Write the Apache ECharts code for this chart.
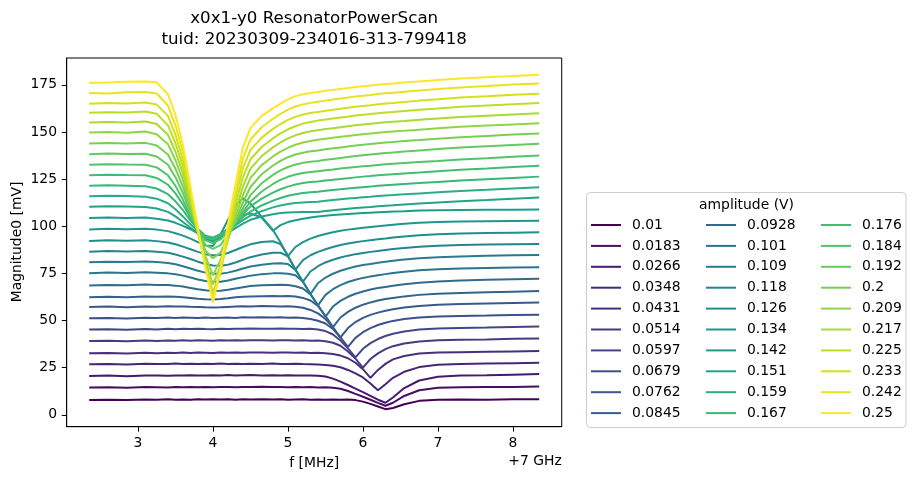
<!DOCTYPE html>
<html><head><meta charset="utf-8">
<script src="https://cdn.jsdelivr.net/npm/echarts@6/dist/echarts.min.js"></script>
<style>html,body{margin:0;padding:0;background:#fff}#c{width:916px;height:480px}</style>
</head><body><div id="c"></div>
<script>
// frequency grid in MHz (offset +7 GHz)
const freq = [2.35,2.6,2.85,3.1,3.25,3.4,3.5,3.6,3.7,3.8,3.9,4.0,4.1,4.2,4.3,4.4,4.5,4.65,4.8,4.9,5.0,5.1,5.2,5.3,5.4,5.5,5.6,5.7,5.8,5.9,6.0,6.1,6.2,6.3,6.4,6.55,6.75,7.0,7.3,7.65,8.0,8.35];
const amplitudes = ['0.01','0.0183','0.0266','0.0348','0.0431','0.0514','0.0597','0.0679','0.0762','0.0845','0.0928','0.101','0.109','0.118','0.126','0.134','0.142','0.151','0.159','0.167','0.176','0.184','0.192','0.2','0.209','0.217','0.225','0.233','0.242','0.25'];
const xTicks = [3,4,5,6,7,8];
const yTicks = [0,25,50,75,100,125,150,175];

const m00 = [7.9,8.0,7.8,8.1,8.0,8.2,8.0,8.1,8.0,8.2,8.1,8.3,8.1,8.2,8.0,8.2,8.1,8.3,8.1,8.2,8.0,8.1,8.2,8.0,8.1,8.0,8.1,8.0,8.1,7.8,7.0,5.8,4.4,3.0,3.6,5.6,7.4,8.0,8.1,8.0,8.2,8.3];
const m01 = [14.5,14.6,14.4,14.7,14.6,14.5,14.7,14.6,14.8,14.6,14.7,14.6,14.8,14.7,14.6,14.8,14.7,14.9,14.7,14.8,14.6,14.7,14.6,14.7,14.5,14.6,14.3,13.8,12.6,11.1,9.6,8.0,6.3,4.8,6.4,10.0,13.0,14.3,14.6,14.7,14.8,15.0];
const m02 = [20.6,20.8,20.5,20.9,20.8,20.7,20.9,20.8,21.0,20.9,20.8,21.0,20.9,21.1,20.9,21.0,21.1,20.9,21.0,20.9,21.0,20.8,20.9,20.8,20.7,20.3,19.2,17.6,15.8,13.9,12.0,10.0,8.0,6.4,9.2,14.2,18.2,20.2,20.8,21.0,21.3,21.6];
const m03 = [26.8,27.0,26.7,27.1,26.9,27.0,27.2,27.0,27.1,26.9,27.1,27.0,27.2,27.0,27.1,26.9,27.1,27.0,27.2,27.0,26.9,27.1,26.9,26.8,26.7,26.4,26.0,25.2,23.8,22.0,19.8,16.6,13.0,16.2,19.6,22.8,25.3,26.6,27.0,27.2,27.4,27.6];
const m04 = [32.6,32.8,32.5,32.9,32.7,32.9,32.8,33.0,32.8,33.0,32.9,32.8,33.0,32.9,33.1,32.9,33.0,33.1,32.9,33.0,33.1,32.9,33.0,32.8,32.9,32.6,32.2,31.4,30.0,27.6,24.2,19.6,23.8,27.0,29.4,31.2,32.5,33.0,33.2,33.4,33.6,33.8];
const m05 = [39.1,39.3,39.0,39.4,39.2,39.4,39.3,39.5,39.3,39.5,39.4,39.3,39.5,39.4,39.6,39.4,39.5,39.6,39.4,39.5,39.6,39.4,39.5,39.3,39.4,39.0,38.2,36.6,33.6,29.8,25.0,29.6,32.6,34.8,36.4,37.8,38.9,39.5,39.8,40.0,40.3,40.5];
const m06 = [45.2,45.4,45.1,45.5,45.3,45.6,45.4,45.6,45.5,45.7,45.5,45.4,45.6,45.5,45.7,45.6,45.8,45.6,45.7,45.8,45.6,45.7,45.5,45.6,45.2,44.4,42.6,39.4,35.2,30.5,35.0,38.0,40.2,41.8,43.0,44.2,45.2,45.8,46.1,46.3,46.6,46.8];
const m07 = [51.2,51.4,51.1,51.5,51.3,51.6,51.4,51.6,51.5,51.4,51.6,51.3,51.5,51.6,51.4,51.7,51.6,51.8,51.6,51.7,51.5,51.6,51.3,50.8,49.9,48.4,45.6,41.0,36.0,40.8,43.8,46.0,47.6,48.8,49.8,50.8,51.6,52.1,52.4,52.6,52.9,53.1];
const m08 = [57.2,57.4,57.1,57.5,57.3,57.6,57.4,57.5,57.3,57.2,57.0,56.9,57.0,57.2,57.4,57.6,57.5,57.7,57.6,57.5,57.6,57.3,56.8,55.6,53.8,50.8,46.5,41.0,46.0,49.2,51.4,53.0,54.2,55.2,56.0,56.9,57.7,58.3,58.7,59.0,59.3,59.6];
const m09 = [62.3,62.6,62.4,62.8,62.6,62.8,62.6,62.4,62.0,61.6,61.3,61.2,61.4,61.8,62.3,62.6,62.8,62.9,63.0,62.9,63.0,62.7,62.0,60.6,57.8,52.5,46.5,51.6,54.6,56.8,58.4,59.6,60.6,61.4,62.0,62.8,63.6,64.2,64.6,65.0,65.3,65.6];
const m10 = [68.6,68.9,68.7,69.1,68.9,68.8,68.5,68.0,67.3,66.6,66.0,65.7,65.8,66.3,67.0,67.7,68.3,68.7,68.9,69.0,68.8,68.2,67.0,63.8,58.2,52.0,57.4,60.4,62.6,64.2,65.4,66.4,67.2,67.8,68.4,69.2,70.0,70.7,71.2,71.6,71.9,72.1];
const m11 = [75.1,75.4,75.2,75.6,75.3,75.0,74.5,73.8,72.8,71.8,71.0,70.6,70.6,71.2,72.1,73.0,73.8,74.6,75.0,75.1,74.8,74.0,70.6,64.2,58.0,63.6,66.6,68.8,70.4,71.6,72.6,73.4,74.0,74.6,75.2,75.9,76.6,77.2,77.6,77.9,78.1,78.3];
const m12 = [80.9,81.2,81.0,81.3,81.0,80.5,79.8,78.8,77.6,76.4,75.4,74.8,74.8,75.4,76.4,77.6,78.6,79.6,80.2,80.4,80.0,76.8,70.6,64.0,69.8,72.8,74.8,76.4,77.6,78.6,79.4,80.0,80.6,81.2,81.7,82.3,83.0,83.6,84.0,84.3,84.6,84.8];
const m13 = [86.5,86.8,86.6,86.9,86.5,85.9,85.0,83.9,82.6,81.2,80.0,79.2,79.0,79.6,80.8,82.2,83.6,85.0,85.9,86.0,84.0,77.2,70.6,76.0,78.8,80.8,82.2,83.4,84.4,85.2,85.8,86.4,86.9,87.4,87.9,88.5,89.1,89.7,90.0,90.3,90.5,90.6];
const m14 = [92.2,92.5,92.3,92.6,92.1,91.4,90.4,89.2,87.8,86.4,85.2,84.6,84.8,85.8,87.4,89.0,90.4,91.6,92.0,90.6,84.4,77.0,82.0,84.6,86.4,87.8,89.0,90.0,90.8,91.5,92.1,92.6,93.1,93.5,94.0,94.6,95.2,95.8,96.1,96.4,96.6,96.8];
const m15 = [98.3,98.6,98.4,98.7,98.2,97.4,96.3,95.0,93.4,91.6,89.8,89.5,95.5,103.5,110.8,114.8,112.0,105.0,98.0,91.5,84.2,89.0,91.6,93.4,94.8,95.9,96.8,97.6,98.2,98.7,99.2,99.6,100.0,100.4,100.8,101.3,101.8,102.2,102.5,102.7,102.8,102.9];
const m16 = [104.3,104.6,104.4,104.6,104.0,103.0,101.8,100.2,98.4,96.2,93.6,91.6,94.0,99.0,103.6,106.0,106.8,104.6,97.6,100.6,102.2,103.2,104.0,104.6,105.1,105.5,105.9,106.2,106.5,106.8,107.0,107.2,107.4,107.6,107.8,108.0,108.3,108.5,108.6,108.7,108.8,108.9];
const m17 = [110.3,110.6,110.4,110.2,109.4,107.6,105.2,102.2,99.2,96.4,93.8,92.0,94.0,96.5,99.0,101.4,103.4,105.2,106.4,107.0,107.3,107.4,107.5,107.5,107.6,108.1,108.5,108.9,109.3,109.6,109.9,110.2,110.6,110.9,111.1,111.5,112.0,112.6,113.3,113.9,114.6,115.2];
const m18 = [115.9,116.2,116.0,115.6,114.6,112.2,109.0,105.2,101.0,97.5,94.5,93.0,95.5,98.0,100.5,103.2,105.6,108.0,110.0,111.0,111.8,112.3,112.6,112.8,113.0,113.5,113.9,114.3,114.7,115.0,115.3,115.6,116.0,116.3,116.5,116.9,117.4,118.0,118.7,119.3,120.0,120.7];
const m19 = [121.4,121.7,121.5,121.2,120.0,117.0,113.2,108.5,103.0,98.5,95.0,94.0,96.0,98.5,101.5,104.8,107.8,111.0,113.6,115.0,116.2,117.0,117.6,118.0,118.3,118.8,119.2,119.6,120.0,120.4,120.7,121.0,121.4,121.7,122.0,122.4,122.9,123.5,124.2,124.9,125.6,126.3];
const m20 = [127.0,127.3,127.1,127.0,125.6,122.0,117.4,111.5,104.5,98.5,94.0,93.0,95.0,98.0,102.0,106.5,110.5,114.6,117.8,119.6,121.0,122.1,122.9,123.4,123.7,124.2,124.6,125.1,125.5,125.9,126.3,126.6,127.0,127.3,127.6,128.0,128.5,129.2,129.9,130.6,131.4,132.1];
const m21 = [132.6,132.9,132.7,132.6,131.2,127.0,121.4,114.0,105.5,98.0,92.5,91.0,93.0,97.0,102.0,107.5,113.0,118.4,122.4,124.6,126.2,127.4,128.2,128.8,129.2,129.7,130.1,130.6,131.0,131.4,131.8,132.1,132.5,132.8,133.1,133.5,134.0,134.6,135.4,136.0,136.8,137.5];
const m22 = [138.2,138.5,138.3,138.4,137.0,132.6,126.0,117.5,107.0,97.5,90.0,88.0,90.0,95.5,102.0,109.5,116.5,122.8,127.2,129.6,131.4,132.7,133.6,134.2,134.6,135.2,135.7,136.2,136.7,137.2,137.6,138.0,138.4,138.8,139.1,139.6,140.2,140.9,141.7,142.4,143.1,143.7];
const m23 = [143.9,144.1,143.8,144.2,142.8,138.0,130.5,121.0,109.0,97.0,87.0,83.0,86.0,94.0,103.0,112.5,120.8,127.6,132.2,134.6,136.6,138.0,139.0,139.7,140.2,140.8,141.3,141.8,142.3,142.8,143.2,143.6,144.0,144.4,144.7,145.2,145.7,146.4,147.2,147.9,148.6,149.2];
const m24 = [149.7,149.9,149.6,150.2,148.8,143.5,135.0,124.5,111.0,96.5,84.0,74.0,82.0,93.0,105.0,116.5,125.6,132.4,137.0,139.6,141.6,143.2,144.4,145.2,145.8,146.4,146.9,147.4,147.9,148.4,148.8,149.2,149.6,149.9,150.2,150.6,151.2,151.9,152.7,153.4,154.0,154.6];
const m25 = [155.0,155.2,155.0,155.5,154.2,148.5,139.5,128.0,113.0,96.5,81.5,69.0,79.0,93.0,108.0,121.0,130.5,137.2,141.8,144.4,146.6,148.2,149.4,150.3,150.9,151.5,152.0,152.5,153.0,153.5,153.9,154.3,154.7,155.1,155.4,155.8,156.4,157.1,157.9,158.6,159.3,159.9];
const m26 = [160.2,160.5,160.3,160.8,159.6,153.5,144.0,131.5,115.0,97.0,80.0,65.0,76.0,94.0,111.5,126.0,135.5,142.0,146.6,149.2,151.4,153.0,154.4,155.3,156.0,156.6,157.1,157.6,158.1,158.7,159.1,159.5,159.9,160.3,160.6,161.1,161.7,162.4,163.3,164.0,164.7,165.3];
const m27 = [165.0,165.3,165.1,165.6,164.5,158.5,148.5,135.0,117.0,97.5,79.0,62.5,75.0,96.0,115.0,131.0,140.5,147.0,151.6,154.2,156.4,158.0,159.2,160.0,160.6,161.2,161.8,162.3,162.8,163.4,163.8,164.2,164.7,165.1,165.4,165.9,166.6,167.3,168.2,168.9,169.7,170.3];
const m28 = [170.6,170.4,171.0,171.2,170.4,164.0,153.5,139.0,119.0,98.0,78.5,61.0,76.0,98.0,118.0,136.0,146.0,152.5,157.0,159.6,161.8,163.5,164.6,165.4,166.0,166.6,167.2,167.7,168.2,168.8,169.2,169.6,170.1,170.5,170.8,171.3,172.0,172.7,173.6,174.3,175.1,175.7];
const m29 = [175.9,176.2,176.6,176.8,176.3,170.0,159.0,143.0,121.0,99.0,78.0,59.5,78.0,101.0,122.0,142.0,152.0,158.5,162.5,165.0,167.3,169.0,170.0,170.6,171.2,171.8,172.3,172.8,173.3,173.8,174.2,174.6,175.0,175.4,175.7,176.2,176.8,177.5,178.3,179.0,179.7,180.3];

const magnitudes = [m00,m01,m02,m03,m04,m05,m06,m07,m08,m09,m10,m11,m12,m13,m14,m15,m16,m17,m18,m19,m20,m21,m22,m23,m24,m25,m26,m27,m28,m29];

// viridis colormap anchors (style)
const VIR = [[68,1,84],[71,19,101],[72,36,117],[70,51,127],[65,68,135],[59,82,139],[53,95,141],[47,108,142],[42,120,142],[37,132,142],[33,145,140],[30,156,137],[34,168,132],[53,183,121],[68,191,112],[94,201,98],[122,209,81],[160,218,57],[189,223,38],[223,227,24],[253,231,37]];
function viridis(t){
  const p = t*20, i = Math.min(19, Math.floor(p)), f = p - i;
  const a = VIR[i], b = VIR[i+1];
  const c = a.map((v,j)=>Math.round(v+(b[j]-v)*f));
  return 'rgb('+c.join(',')+')';
}

const FONT = 'DejaVu Sans';
const chart = echarts.init(document.getElementById('c'), null, {renderer:'canvas'});

const series = magnitudes.map((arr,k)=>({
  name: amplitudes[k],
  type: 'line',
  data: freq.map((f,i)=>[f, arr[i]]),
  showSymbol: false,
  symbol: 'none',
  smooth: false,
  color: viridis(k/(magnitudes.length-1)),
  lineStyle: {width: 2},
  emphasis: {disabled: true},
  animation: false
}));

const legends = [0,1,2].map(c=>({
  orient: 'vertical',
  left: 591 + 115*c,
  top: 217,
  padding: 0,
  itemGap: 4.9,
  itemWidth: 30,
  itemHeight: 2,
  icon: 'rect',
  selectedMode: false,
  data: amplitudes.slice(c*10, c*10+10),
  textStyle: {fontFamily: FONT, fontSize: 13.9, color: '#000', lineHeight: 16, padding: [0,0,0,6]}
}));

chart.setOption({
  backgroundColor: '#fff',
  animation: false,
  textStyle: {fontFamily: FONT},
  grid: {left: 66.7, top: 58, width: 495, height: 368.7, show: true, borderColor: '#000', borderWidth: 1, backgroundColor: 'transparent', containLabel: false},
  xAxis: {
    type: 'value', min: 2.05, max: 8.65,
    axisLine: {show: true, onZero: false, lineStyle: {color: '#000', width: 1}},
    axisTick: {show: true, length: 4.9, customValues: xTicks, lineStyle: {color: '#000', width: 1}},
    axisLabel: {customValues: xTicks, color: '#000', fontSize: 13.9, fontFamily: FONT, margin: 9.7},
    splitLine: {show: false}
  },
  yAxis: {
    type: 'value', min: -6.3, max: 189.2,
    axisLine: {show: true, onZero: false, lineStyle: {color: '#000', width: 1}},
    axisTick: {show: true, length: 4.9, customValues: yTicks, lineStyle: {color: '#000', width: 1}},
    axisLabel: {customValues: yTicks, color: '#000', fontSize: 13.9, fontFamily: FONT, margin: 9.7},
    splitLine: {show: false}
  },
  legend: legends,
  series: series,
  graphic: [
    {type:'rect', z: 1, shape:{x:586.5, y:192.5, width:319.5, height:235, r:4}, style:{fill:'rgba(255,255,255,0.8)', stroke:'#cccccc', lineWidth:1}},
    {type:'text', z: 5, x: 746.5, y: 205, style:{text:'amplitude (V)', fontFamily: FONT, fontSize: 13.9, fill:'#000', align:'center', verticalAlign:'middle'}},
    {type:'text', x: 314.2, y: 18.5, style:{text:'x0x1-y0 ResonatorPowerScan', fontFamily: FONT, fontSize: 16.7, fill:'#000', align:'center', verticalAlign:'middle'}},
    {type:'text', x: 314.2, y: 40, style:{text:'tuid: 20230309-234016-313-799418', fontFamily: FONT, fontSize: 16.7, fill:'#000', align:'center', verticalAlign:'middle'}},
    {type:'text', x: 314.2, y: 463, style:{text:'f [MHz]', fontFamily: FONT, fontSize: 13.9, fill:'#000', align:'center', verticalAlign:'middle'}},
    {type:'text', x: 561.7, y: 461, style:{text:'+7 GHz', fontFamily: FONT, fontSize: 13.9, fill:'#000', align:'right', verticalAlign:'middle'}},
    {type:'text', x: 17, y: 242, rotation: Math.PI/2, style:{text:'Magnitude0 [mV]', fontFamily: FONT, fontSize: 13.9, fill:'#000', align:'center', verticalAlign:'middle'}}
  ]
});
</script>
</body></html>
